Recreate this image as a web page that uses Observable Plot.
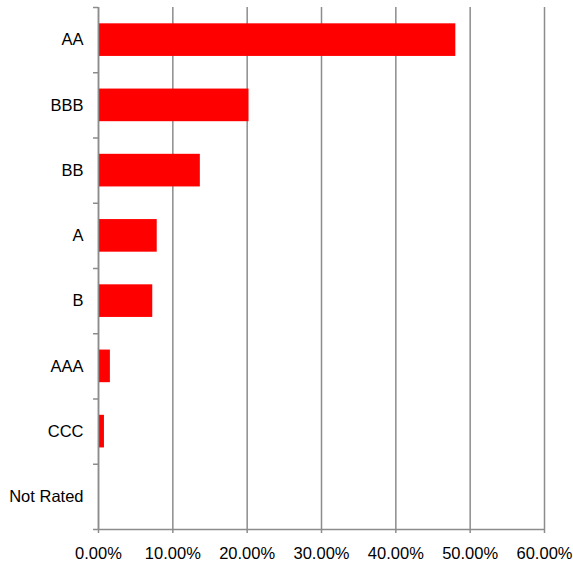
<!DOCTYPE html>
<html>
<head>
<meta charset="utf-8">
<script src="https://cdn.jsdelivr.net/npm/d3@7"></script>
<script src="https://cdn.jsdelivr.net/npm/@observablehq/plot@0.6"></script>
<style>
  body { margin: 0; background: #fff; }
  #chart svg { display: block; }
</style>
</head>
<body>
<div id="chart"></div>
<script>
const categories = ["AA", "BBB", "BB", "A", "B", "AAA", "CCC", "Not Rated"];
const values = [0.4807, 0.2025, 0.137, 0.079, 0.073, 0.016, 0.008, 0];
const xTicks = [0, 0.1, 0.2, 0.3, 0.4, 0.5, 0.6];

const data = categories.map((c, i) => ({category: c, value: values[i], index: i}));
const boundaries = d3.range(categories.length + 1);
const centers = categories.map((c, i) => i + 0.5);

const gray = "#8c8c8c";

const chart = Plot.plot({
  width: 573,
  height: 562,
  marginTop: 7,
  marginRight: 29,
  marginBottom: 33,
  marginLeft: 98,
  style: {fontFamily: "'Liberation Sans', Arial, sans-serif", fontSize: "16.5px", color: "#000", background: "#fff"},
  x: {domain: [0, 0.6]},
  y: {domain: [0, categories.length], reverse: true},
  marks: [
    Plot.gridX(xTicks, {stroke: gray, strokeOpacity: 1, strokeWidth: 1.5}),
    Plot.rectX(data, {
      x1: 0,
      x2: "value",
      y1: d => d.index + 0.25,
      y2: d => d.index + 0.75,
      fill: "#ff0000"
    }),
    Plot.ruleX([0], {stroke: gray, strokeWidth: 1.5}),
    Plot.ruleY([categories.length], {stroke: gray, strokeWidth: 1.5}),
    Plot.axisX({
      ticks: xTicks,
      tickFormat: d3.format(".2%"),
      tickSize: 4,
      tickPadding: 14,
      stroke: gray,
      strokeWidth: 1.5,
      fill: "#000",
      fontSize: 16.5,
      label: null
    }),
    Plot.axisY({
      ticks: boundaries,
      tickSize: 5,
      tickFormat: () => "",
      stroke: gray,
      strokeWidth: 1.5,
      label: null
    }),
    Plot.axisY({
      ticks: centers,
      tickSize: 0,
      tickPadding: 15,
      tickFormat: d => categories[Math.floor(d)],
      fill: "#000",
      fontSize: 16.5,
      label: null
    })
  ]
});

document.getElementById("chart").appendChild(chart);
</script>
</body>
</html>
